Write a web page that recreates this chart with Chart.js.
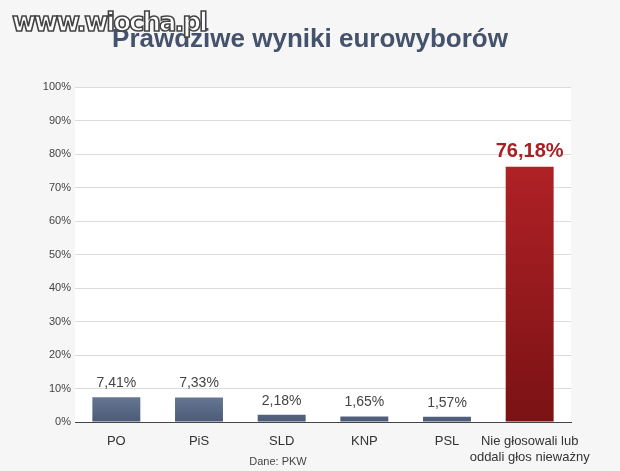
<!DOCTYPE html>
<html><head><meta charset="utf-8">
<script src="https://cdn.jsdelivr.net/npm/chart.js@4"></script>
<style>
body{margin:0;background:#f6f6f6;}
#wrap{position:relative;width:620px;height:471px;}
#wm{position:absolute;left:12px;top:7px;font:900 26px "DejaVu Sans",Arial,sans-serif;color:#fff;
 -webkit-text-stroke:1.6px #444;letter-spacing:-2px;z-index:2;}
</style></head>
<body><div id="wrap"><div id="wm">www.wiocha.pl</div><canvas id="c" width="620" height="471"></canvas></div>
<script>
const categories = ["PO", "PiS", "SLD", "KNP", "PSL", ["Nie głosowali lub", "oddali głos nieważny"]];
const values = [7.41, 7.33, 2.18, 1.65, 1.57, 76.18];
const valueLabels = ["7,41%", "7,33%", "2,18%", "1,65%", "1,57%", "76,18%"];

const ctx = document.getElementById("c").getContext("2d");

function barFill(context) {
    const area = context.chart.chartArea;
    if (!area) return "#667799";
    const g = context.chart.ctx.createLinearGradient(0, area.top, 0, area.bottom);
    if (context.dataIndex === 5) {
        g.addColorStop(0, "#c0262b");
        g.addColorStop(1, "#7a1214");
    } else {
        g.addColorStop(0.85, "#8392ad");
        g.addColorStop(1, "#4b5a77");
    }
    return g;
}

const extras = {
    id: "extras",
    beforeDraw(chart) {
        const a = chart.chartArea, c = chart.ctx;
        c.save();
        c.fillStyle = "#ffffff";
        c.fillRect(a.left, a.top, a.right - a.left, a.bottom - a.top);
        c.restore();
    },
    afterDraw(chart) {
        const c = chart.ctx;
        c.save();
        c.textAlign = "center";
        c.fillStyle = "#44526b";
        c.font = "bold 26px 'Liberation Sans', Arial, sans-serif";
        c.fillText("Prawdziwe wyniki eurowyborów", 310, 47);
        c.font = "11px 'Liberation Sans', Arial, sans-serif";
        c.fillStyle = "#444";
        c.fillText("Dane: PKW", 278, 465);
        const meta = chart.getDatasetMeta(0);
        meta.data.forEach((bar, i) => {
            if (i === 5) {
                c.font = "bold 20px 'Liberation Sans', Arial, sans-serif";
                c.fillStyle = "#a82024";
            } else {
                c.font = "14px 'Liberation Sans', Arial, sans-serif";
                c.fillStyle = "#444";
            }
            c.fillText(valueLabels[i], bar.x, bar.y - 10);
        });
        c.restore();
    }
};

new Chart(ctx, {
    type: "bar",
    data: {
        labels: categories,
        datasets: [{
            data: values,
            backgroundColor: barFill,
            barPercentage: 0.58,
            categoryPercentage: 1
        }]
    },
    options: {
        responsive: false,
        animation: false,
        layout: { padding: { top: 87, right: 49, left: 0, bottom: 0 } },
        plugins: { legend: { display: false }, tooltip: { enabled: false } },
        scales: {
            y: {
                min: 0, max: 100,
                ticks: { stepSize: 10, callback: v => v + "%", color: "#444", font: { size: 11, family: "Liberation Sans" }, padding: 4 },
                grid: { color: "#dcdcdc", drawTicks: false },
                border: { display: false },
                afterFit: s => { s.width = 75; }
            },
            x: {
                ticks: { color: "#333", font: { size: 13, family: "Liberation Sans" }, padding: 4, maxRotation: 0, autoSkip: false },
                grid: { display: false },
                border: { color: "#444", width: 1 },
                afterFit: s => { s.height = 49; }
            }
        }
    },
    plugins: [extras]
});
</script></body></html>
